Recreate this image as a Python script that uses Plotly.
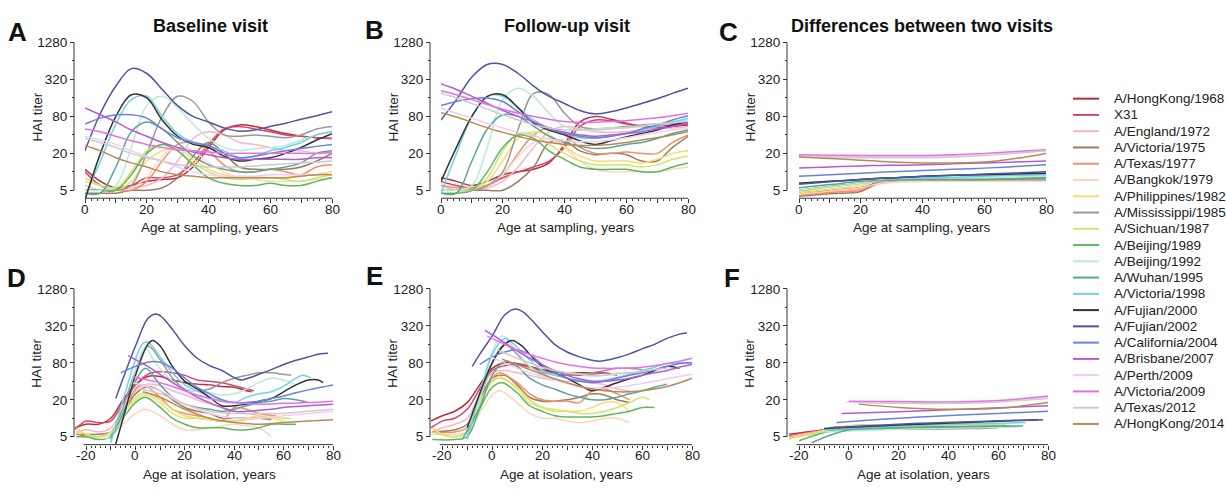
import math
import plotly.graph_objects as go

# ---------------- data ----------------
STRAINS = ["A/HongKong/1968", "X31", "A/England/1972", "A/Victoria/1975", "A/Texas/1977",
           "A/Bangkok/1979", "A/Philippines/1982", "A/Mississippi/1985", "A/Sichuan/1987",
           "A/Beijing/1989", "A/Beijing/1992", "A/Wuhan/1995", "A/Victoria/1998",
           "A/Fujian/2000", "A/Fujian/2002", "A/California/2004", "A/Brisbane/2007",
           "A/Perth/2009", "A/Victoria/2009", "A/Texas/2012", "A/HongKong/2014"]
COLORS = ["#b5303f", "#d9456e", "#f7b6c8", "#a07a62", "#f0906a", "#fcd7bd", "#f7dc6f",
          "#999999", "#d4e36c", "#5cb85c", "#b8ecd4", "#5aa596", "#6fd3e8", "#333333",
          "#52529e", "#6a82d8", "#b05cd6", "#f0cdf0", "#e86fe8", "#cccccc", "#b98a55"]

AGE_SAMPLING = [0, 5, 10, 15, 20, 25, 30, 35, 40, 45, 50, 55, 60, 65, 70, 75, 80]

A_TITER = [
    [11, 7, 5.5, 6, 7, 7.5, 8, 12, 25, 48, 58, 55, 48, 42, 38, 36, 35],
    [10, 6, 5, 6, 8, 8, 9, 14, 28, 50, 55, 50, 45, 40, 38, 36, 35],
    [6, 5, 5, 5.5, 6, 8, 15, 35, 45, 40, 30, 28, 25, 22, 22, 20, 20],
    [4.5, 4.5, 4.5, 5, 5, 5.5, 8, 18, 30, 20, 12, 11, 11, 11, 12, 15, 20],
    [5, 5, 5, 5, 7, 15, 28, 30, 22, 13, 10, 10, 11, 10, 9, 12, 13],
    [5, 5, 5, 5.5, 8, 18, 25, 22, 14, 10, 8, 7.5, 7, 7, 7, 7.5, 8],
    [7, 6, 5, 7, 15, 22, 24, 16, 11, 9, 8, 8, 8, 8, 9, 9, 10],
    [5, 5, 5, 6, 20, 80, 170, 140, 65, 40, 38, 40, 38, 36, 40, 50, 55],
    [8, 6, 5.5, 10, 22, 28, 22, 14, 10, 8, 7.5, 8, 8, 7.5, 7, 8, 9],
    [5, 5, 5, 9, 20, 28, 22, 13, 8, 6.5, 6, 6, 6.5, 6, 6, 7, 8],
    [5, 5, 6, 25, 120, 170, 110, 60, 35, 25, 22, 24, 25, 27, 33, 40, 45],
    [4.5, 4.5, 12, 45, 65, 50, 30, 18, 13, 11, 10, 10, 11, 12, 14, 20, 22],
    [4, 15, 60, 150, 170, 80, 42, 30, 26, 22, 17, 18, 22, 25, 30, 40, 45],
    [3.5, 20, 80, 180, 160, 70, 38, 28, 25, 18, 15, 16, 17, 20, 25, 33, 42],
    [22, 90, 250, 480, 400, 220, 120, 80, 65, 52, 46, 48, 55, 62, 72, 82, 95],
    [60, 75, 85, 85, 75, 50, 36, 30, 27, 20, 17, 18, 20, 22, 24, 26, 28],
    [110, 85, 65, 48, 38, 30, 25, 21, 19, 17, 16, 16, 16, 16, 16, 17, 17],
    [38, 33, 28, 22, 18, 15, 12, 10, 9, 8.5, 8.5, 8.5, 9, 9, 9, 9, 9],
    [50, 45, 38, 32, 28, 25, 23, 22, 21, 20, 20, 20, 20, 20, 20, 20, 21],
    [35, 30, 25, 20, 17, 15, 13, 12.5, 12, 12, 12, 12.5, 13, 13.5, 14, 14.5, 15],
    [27, 22, 17, 14, 12, 10, 9, 8.5, 8, 8, 8, 8, 8, 8, 8.5, 9, 9],
]

B_TITER = [
    [8, 7, 6, 7, 9, 10, 11, 14, 28, 65, 80, 72, 62, 55, 52, 55, 58],
    [7, 6, 5.5, 6, 8, 10, 12, 15, 25, 55, 70, 68, 60, 56, 55, 58, 60],
    [6, 5, 5, 5.5, 7, 12, 25, 45, 55, 50, 45, 44, 45, 48, 50, 52, 55],
    [5, 5, 5, 5, 5, 7, 12, 30, 32, 22, 19, 20, 19, 15, 15, 25, 38],
    [6, 5.5, 5.5, 6, 9, 20, 40, 52, 40, 25, 20, 20, 21, 20, 20, 30, 40],
    [5, 5, 5, 6, 9, 18, 30, 35, 25, 15, 11, 10, 10, 10, 10, 11, 12],
    [5, 5, 5, 7, 15, 35, 45, 40, 26, 18, 15, 15, 15, 14, 16, 20, 22],
    [5, 5, 5, 6, 10, 50, 190, 180, 90, 55, 50, 52, 55, 58, 60, 62, 65],
    [5, 5, 5, 8, 22, 42, 40, 28, 20, 15, 13, 13, 13, 12, 13, 16, 18],
    [4.5, 4.5, 5, 10, 25, 40, 35, 22, 16, 12, 11, 11, 11, 10, 10, 12, 14],
    [5, 5, 6, 25, 150, 230, 170, 90, 55, 48, 50, 52, 52, 55, 60, 65, 70],
    [4.5, 4.5, 15, 50, 85, 80, 55, 38, 30, 26, 24, 25, 28, 30, 35, 42, 48],
    [4.5, 20, 80, 170, 170, 110, 70, 50, 40, 36, 35, 38, 42, 48, 55, 65, 75],
    [7, 25, 80, 170, 180, 110, 62, 48, 40, 32, 28, 32, 37, 42, 48, 58, 65],
    [70, 150, 350, 560, 560, 400, 250, 170, 130, 100, 88, 95, 110, 130, 155, 190, 230],
    [120, 140, 155, 160, 140, 95, 65, 50, 42, 38, 36, 38, 42, 50, 58, 70, 82],
    [270, 220, 170, 130, 100, 80, 65, 52, 44, 40, 38, 40, 42, 45, 50, 55, 62],
    [110, 90, 75, 62, 52, 44, 38, 34, 32, 31, 31, 33, 36, 40, 44, 48, 52],
    [210, 180, 150, 125, 105, 90, 80, 72, 66, 64, 64, 66, 68, 72, 76, 82, 90],
    [190, 160, 130, 105, 85, 70, 58, 52, 48, 48, 48, 50, 53, 56, 60, 63, 66],
    [92, 78, 64, 52, 44, 38, 33, 30, 28, 27, 27, 28, 30, 33, 36, 40, 45],
]

C_AGE = [0, 10, 20, 25, 30, 40, 50, 60, 70, 80]
C_TITER = [
    [4.5, 5, 5.5, 6.5, 7, 7.2, 7.4, 7.5, 7.5, 7.5],
    [4.5, 5, 5.5, 6.5, 7, 7, 7, 7, 7, 7],
    [4.2, 4.7, 5.2, 6.3, 6.8, 7, 7, 7, 7, 7],
    [4, 4.4, 4.8, 6.3, 7.2, 7.5, 7.5, 7.5, 7.5, 7.5],
    [4.2, 4.6, 5, 6.5, 7.3, 7.5, 7.5, 7.5, 7.3, 7],
    [4.3, 4.9, 5.5, 6.3, 6.8, 7, 7, 7, 7, 7],
    [4.5, 5.2, 6, 7, 7.6, 8, 8, 8, 8, 8],
    [5, 5.7, 6.5, 7, 7.3, 7.5, 7.5, 7.5, 7.5, 7.5],
    [4.7, 5.6, 6.5, 7, 7.3, 7.5, 7.5, 7.6, 8, 8.5],
    [5, 5.8, 6.5, 7, 7.2, 7.5, 7.5, 7.5, 7.7, 8],
    [5, 5.7, 6.5, 7, 7.2, 7.5, 7.7, 8, 8.2, 8.5],
    [5.5, 6.2, 7, 7.2, 7.3, 7.5, 7.5, 7.5, 7.7, 8],
    [6.5, 7, 7.5, 7.7, 7.8, 8, 8.2, 8.5, 8.7, 9],
    [6.5, 7, 7.5, 7.8, 8, 8.5, 8.8, 9, 9.2, 9.5],
    [6.3, 6.9, 7.5, 7.8, 8, 8.5, 8.8, 9.2, 9.6, 10],
    [8.5, 9, 9.5, 9.8, 10, 10.5, 11, 11.5, 12.2, 13],
    [11.5, 12, 12.5, 12.7, 12.8, 13, 13.5, 14, 14.5, 15],
    [18, 18, 18, 18, 18, 18, 18.5, 19.5, 20.5, 22],
    [19, 18.7, 18.5, 18.5, 18.5, 18.5, 19, 20, 21.5, 23],
    [17.5, 17.2, 17, 17, 17, 17, 17.5, 18.5, 20, 22],
    [17.5, 16.5, 15.5, 15, 14.5, 14, 14, 14.5, 16.5, 20],
]

D_AGE = [
    [-24.5, -20, -15, -10, -5, 0, 5, 10, 15, 20, 25, 30, 35, 40, 45, 47],
    [-24.5, -20, -15, -10, -5, 0, 5, 10, 15, 20, 25, 30, 35, 40, 45, 48],
    [-24, -20, -15, -10, -5, 0, 5, 10, 15, 20, 25, 30, 35, 40, 45, 50, 53],
    [-24, -15, -10, -5, 0, 5, 10, 15, 20, 25, 30, 35, 40, 45, 50, 55],
    [-24, -15, -10, -5, 0, 3, 10, 15, 20, 25, 30, 35, 40, 45, 50, 57],
    [-24, -15, -10, -5, 0, 4, 10, 15, 20, 25, 30, 35, 40, 45, 50, 55],
    [-24, -20, -15, -10, -5, 0, 4, 10, 15, 20, 25, 30, 35, 40, 45, 50, 55, 60],
    [-10, -5, 0, 5, 10, 15, 20, 25, 30, 35, 40, 45, 50, 55, 60, 63],
    [-24, -20, -15, -10, -5, 0, 4, 10, 15, 20, 25, 30, 35, 40, 45, 50, 55, 60, 63],
    [-24, -20, -15, -10, -5, 0, 4, 10, 15, 20, 25, 30, 35, 40, 45, 50, 55, 60, 65],
    [-12, -5, 0, 4, 8, 15, 20, 25, 30, 35, 40, 45, 50, 55, 60, 65],
    [-10, -5, 0, 4, 10, 15, 20, 25, 30, 35, 40, 45, 50, 55, 60, 65, 70],
    [-10, -5, 0, 3, 5, 10, 15, 20, 25, 30, 35, 40, 45, 50, 55, 60, 65, 68, 71],
    [-8, -5, 0, 5, 7, 10, 15, 20, 25, 30, 35, 40, 45, 50, 55, 60, 65, 70, 74, 76],
    [-8, -5, 0, 5, 8, 10, 15, 20, 25, 30, 35, 40, 43, 45, 50, 55, 60, 65, 70, 75, 78],
    [-6, 0, 5, 10, 15, 20, 25, 30, 35, 40, 45, 50, 55, 60, 65, 70, 75, 80],
    [-3, 0, 5, 10, 15, 20, 25, 30, 35, 40, 45, 50, 55, 60, 65, 70, 75, 80],
    [-1, 10, 20, 30, 40, 50, 60, 70, 80],
    [-1, 5, 10, 15, 20, 25, 30, 35, 40, 50, 60, 70, 80],
    [2, 10, 20, 30, 40, 50, 60, 70, 80],
    [3, 10, 20, 30, 40, 50, 60, 70, 80],
]
D_TITER = [
    [7, 8, 8, 10, 20, 35, 48, 48, 42, 38, 36, 35, 33, 32, 28, 27],
    [6.5, 9, 8.5, 9, 18, 35, 52, 57, 55, 50, 42, 40, 38, 34, 30, 28],
    [6, 6.5, 6, 7, 14, 28, 36, 34, 28, 24, 20, 17, 15, 13, 12, 11, 10],
    [5.5, 5.5, 6, 12, 25, 33, 28, 20, 15, 13, 12, 10, 10, 10, 10, 9.5],
    [5.5, 5, 6, 12, 30, 35, 22, 14, 12, 11, 10, 9, 15, 14, 12, 11],
    [5, 5, 5.5, 8, 12, 14, 11, 8, 6.5, 6.5, 7, 7.5, 8, 7.5, 7, 5],
    [6, 5.5, 5, 6, 12, 20, 24, 18, 12, 10, 10, 9.5, 9, 9, 10, 11, 10, 9],
    [4.5, 15, 60, 150, 90, 45, 30, 28, 30, 38, 45, 50, 55, 55, 52, 50],
    [7, 5.5, 5, 6, 12, 22, 26, 20, 14, 11, 10, 9.5, 9, 9, 9.5, 10, 10.5, 10, 10],
    [5, 5, 4.5, 5, 10, 18, 22, 15, 10, 8, 7, 7, 7, 6.5, 6.5, 7, 8, 8, 8],
    [4.5, 10, 60, 140, 80, 40, 30, 28, 26, 24, 25, 30, 38, 45, 42, 35],
    [5, 12, 40, 65, 35, 22, 17, 15, 14, 13, 14, 16, 18, 19, 21, 20, 18],
    [4, 20, 90, 165, 175, 100, 55, 35, 28, 22, 19, 18, 22, 25, 27, 33, 45, 50, 45],
    [3.8, 10, 50, 160, 185, 150, 70, 40, 30, 22, 16, 16, 17, 19, 21, 27, 35, 42, 42, 38],
    [21, 45, 150, 420, 500, 470, 280, 150, 95, 72, 60, 46, 42, 44, 52, 62, 75, 88, 100, 112, 115],
    [55, 70, 82, 82, 65, 45, 32, 25, 20, 18, 18, 19, 21, 23, 26, 29, 32, 35],
    [105, 90, 70, 52, 38, 29, 22, 18, 15, 13, 13, 13.5, 14, 15, 15.5, 16, 16.5, 17],
    [38, 28, 17, 12, 10, 10, 11, 12, 13],
    [48, 42, 38, 33, 28, 24, 21, 19, 18, 17, 17.5, 18, 19],
    [30, 25, 17, 13, 12, 12, 12, 13, 14],
    [27, 22, 14, 10, 8.5, 8, 8.5, 9, 9.5],
]

E_AGE = [
    [-24.5, -20, -15, -10, -5, 0, 5, 10, 15, 20, 25, 30, 35, 40, 45],
    [-24.5, -20, -15, -10, -5, 0, 5, 10, 15, 20, 25, 30, 35, 40, 45, 50],
    [-24, -20, -15, -10, -5, 0, 5, 10, 15, 20, 25, 30, 35, 40, 45, 50, 55],
    [-24, -15, -10, -5, 0, 5, 10, 15, 20, 25, 30, 35, 40, 45, 50, 55],
    [-24, -15, -10, -5, 0, 3, 10, 15, 20, 25, 30, 35, 40, 45, 50, 55],
    [-24, -15, -10, -5, 0, 3, 10, 15, 20, 25, 30, 35, 40, 45, 50, 55],
    [-24, -20, -15, -10, -5, 0, 3, 10, 15, 20, 25, 30, 35, 40, 45, 50, 55],
    [-10, -5, 0, 5, 10, 15, 20, 25, 30, 35, 40, 45, 50, 55, 60],
    [-24, -15, -10, -5, 0, 3, 10, 15, 20, 25, 30, 35, 40, 45, 50, 55, 60, 63],
    [-24, -15, -10, -5, 0, 4, 10, 15, 20, 25, 30, 35, 40, 45, 50, 55, 60, 65],
    [-12, -5, 0, 4, 8, 15, 20, 25, 30, 35, 40, 45, 50, 55],
    [-12, -5, 0, 5, 10, 15, 20, 25, 30, 35, 40, 45, 50, 55, 60, 65, 70],
    [-10, -5, 0, 5, 8, 15, 20, 25, 30, 35, 40, 45, 50, 55, 60, 65, 70, 75, 80],
    [-10, -5, 0, 5, 8, 12, 15, 20, 25, 30, 35, 40, 45, 50, 55, 60, 65, 70, 75],
    [-8, -5, 0, 5, 9, 12, 15, 20, 25, 30, 35, 40, 43, 45, 50, 55, 60, 65, 70, 75, 78],
    [-5, 0, 5, 10, 15, 20, 25, 30, 35, 40, 45, 50, 55, 60, 65, 70, 75, 80],
    [-3, 0, 5, 10, 15, 20, 25, 30, 35, 40, 45, 50, 55, 60, 65, 70, 75, 80],
    [-1, 5, 10, 15, 20, 25, 30, 35, 40, 45, 50, 55, 60, 65, 70, 75, 80],
    [-2, 0, 5, 10, 15, 20, 25, 30, 35, 40, 45, 50, 55, 60, 65, 70, 75, 80],
    [2, 5, 10, 15, 20, 25, 30, 35, 40, 45, 50, 55, 60, 65, 70],
    [4, 10, 15, 20, 25, 30, 35, 40, 45, 50, 55, 60, 65, 70, 75, 80],
]
E_TITER = [
    [9, 11, 13, 18, 35, 65, 80, 78, 70, 62, 58, 55, 55, 55, 55],
    [7, 9, 10, 14, 30, 60, 72, 75, 68, 60, 55, 52, 50, 52, 55, 50],
    [6, 7, 8, 10, 25, 55, 60, 55, 50, 45, 42, 40, 40, 38, 35, 30, 28],
    [6, 6.5, 8, 20, 45, 50, 35, 22, 19, 19, 20, 22, 25, 24, 20, 18],
    [6, 6, 7, 18, 45, 55, 38, 25, 20, 19, 19, 18, 28, 30, 25, 20],
    [5.5, 5.5, 6, 12, 24, 28, 18, 12, 10, 10, 9, 8.5, 9, 10, 10, 8.5],
    [7, 5.5, 5, 6, 18, 40, 48, 30, 18, 15, 14, 13, 13, 15, 18, 18, 13],
    [5, 20, 80, 160, 110, 70, 55, 52, 50, 52, 55, 60, 65, 65, 62],
    [6, 5, 6, 18, 40, 45, 32, 20, 15, 13, 13, 12, 12, 13, 15, 18, 22, 20],
    [4.5, 4.5, 5, 14, 32, 38, 26, 16, 13, 11, 10.5, 10.5, 10.5, 11, 12, 13, 15, 15],
    [4.5, 20, 120, 220, 150, 70, 52, 52, 55, 52, 48, 50, 55, 55],
    [4.5, 15, 50, 85, 70, 45, 35, 30, 25, 22, 20, 20, 22, 25, 28, 32, 36],
    [4.5, 25, 110, 200, 170, 90, 60, 50, 45, 42, 40, 42, 46, 52, 60, 68, 78, 80, 80],
    [7, 25, 80, 160, 185, 150, 110, 70, 55, 45, 35, 28, 32, 38, 44, 50, 60, 70, 65],
    [70, 110, 220, 480, 600, 550, 430, 260, 160, 120, 100, 88, 85, 87, 97, 112, 135, 160, 200, 235, 245],
    [75, 100, 120, 130, 110, 75, 55, 45, 40, 38, 40, 45, 50, 55, 62, 70, 78, 80],
    [270, 230, 170, 125, 95, 75, 60, 50, 44, 40, 40, 42, 45, 50, 55, 60, 68, 75],
    [100, 80, 65, 55, 48, 42, 37, 33, 31, 31, 32, 34, 37, 40, 44, 48, 52],
    [220, 200, 160, 130, 110, 95, 83, 75, 70, 66, 65, 65, 66, 68, 72, 78, 85, 95],
    [130, 115, 95, 80, 68, 60, 55, 52, 50, 50, 52, 55, 58, 62, 65],
    [92, 75, 62, 52, 44, 38, 33, 30, 28, 27, 27, 28, 30, 33, 38, 45],
]

F_AGE = [
    [-24, -10, -5, 0, 20, 45],
    [-24, -10, -5, 0, 20, 48],
    [-24, -5, 0, 20, 53],
    [-24, -5, 0, 20, 40, 51],
    [-24, -5, 0, 20, 40, 57],
    [-24, -5, 20, 55],
    [-24, -5, 0, 20, 60],
    [-10, 20, 50, 60],
    [-24, -5, 20, 63],
    [-20, -5, 20, 65],
    [-12, 20, 68],
    [-15, 0, 20, 70],
    [-10, 20, 71],
    [-10, 20, 76],
    [-8, 20, 78],
    [-5, 20, 80],
    [-3, 20, 80],
    [-1, 20, 40, 60, 80],
    [0, 20, 40, 60, 80],
    [2, 20, 40, 60, 80],
    [4, 20, 40, 60, 80],
]
F_TITER = [
    [5.5, 6.5, 7, 7.2, 7.5, 7.5],
    [5.2, 6.5, 7.2, 7.2, 7.1, 7],
    [5, 6.8, 7, 7.2, 7.3],
    [4.8, 6.5, 7.5, 7.5, 7.6, 6.8],
    [4.7, 7, 7.5, 7.5, 8.5, 7.5],
    [4.6, 6.3, 6.8, 7],
    [4.6, 7, 7.5, 7.8, 7.8],
    [6.5, 6.6, 6.8, 7],
    [4.8, 6.5, 7.2, 8],
    [4.3, 6.5, 7, 7.5],
    [6, 6.6, 7.3],
    [4, 6.5, 7, 7.5],
    [6.5, 7.5, 8.5],
    [6.8, 7.8, 9.5],
    [7, 8, 9.5],
    [8.5, 10, 13],
    [12, 12.8, 16],
    [18.5, 18, 18, 19, 22],
    [19, 18.7, 18.5, 19.5, 23],
    [18, 17.5, 17.5, 18.5, 21],
    [17, 15, 14, 14.5, 18],
]

PANEL_TITLES = ["Baseline visit", "Follow-up visit", "Differences between two visits"]
PANEL_LETTERS = ["A", "B", "C", "D", "E", "F"]
Y_TICKS = [5, 20, 80, 320, 1280]
Y_MINOR = [10, 40, 160, 640]
X_LABELS_TOP = [0, 20, 40, 60, 80]
X_LABELS_BOTTOM = [-20, 0, 20, 40, 60, 80]

# ---------------- layout helpers ----------------
W, H = 1226, 489
FONT = "Liberation Sans, Arial, Helvetica, sans-serif"
INK = "#222222"


def px(x):
    return x / W


def py(y):
    return 1 - y / H


# pixel geometry of panels: (x0, x1, yaxis_x, xrange, top_px, five_px, bottom_px, xline_start)
PANELS = [
    (85, 332, 74, [0, 80], 36, 186, 194, 0),
    (441, 688, 430, [0, 80], 36, 186, 194, 0),
    (799, 1046, 787, [0, 80], 36, 186, 194, 0),
    (75, 333, 74, [-24.5, 80], 286, 436, 444, -21),
    (431, 692, 430, [-24.5, 80], 286, 436, 444, -21),
    (788, 1048, 787, [-24.5, 80], 286, 436, 444, -21),
]

fig = go.Figure()

series_x = [
    [AGE_SAMPLING] * 21,
    [AGE_SAMPLING] * 21,
    [C_AGE] * 21,
    D_AGE, E_AGE, F_AGE,
]
series_y = [A_TITER, B_TITER, C_TITER, D_TITER, E_TITER, F_TITER]

for k in range(6):
    ax = "" if k == 0 else str(k + 1)
    for j in range(21):
        fig.add_trace(go.Scatter(
            x=series_x[k][j], y=series_y[k][j], mode="lines",
            line=dict(color=COLORS[j], width=1.5, shape="spline", smoothing=1.0),
            xaxis="x" + ax, yaxis="y" + ax, showlegend=False, hoverinfo="skip",
            name=STRAINS[j]))

layout = dict(
    width=W, height=H, margin=dict(l=0, r=0, t=0, b=0),
    paper_bgcolor="white", plot_bgcolor="white", showlegend=False,
    font=dict(family=FONT, color=INK, size=13.5),
)

shapes = []
annotations = []
for k, (x0, x1, yax, xr, ytop, y5, ybot, xstart) in enumerate(PANELS):
    ax = "" if k == 0 else str(k + 1)
    per_dbl = (y5 - ytop) / 8.0
    lo = 5 * 2 ** (-(ybot - y5) / per_dbl)
    if xr[0] < 0:
        major = list(range(-20, 81, 10))
        minor = [v for v in range(-20, 81, 2) if v % 10 != 0]
        lab_vals = X_LABELS_BOTTOM
    else:
        major = list(range(0, 81, 10))
        minor = [v for v in range(0, 81, 2) if v % 10 != 0]
        lab_vals = X_LABELS_TOP
    layout["xaxis" + ax] = dict(
        domain=[px(x0), px(x1)], range=xr, anchor="y" + ax,
        showline=False, showgrid=False, zeroline=False, showticklabels=False,
        ticks="outside", ticklen=4, tickwidth=1, tickcolor="#333",
        tickmode="array", tickvals=major,
        minor=dict(tickmode="array", tickvals=minor, ticks="outside", ticklen=2,
                   tickwidth=1, tickcolor="#333", showgrid=False),
    )
    layout["yaxis" + ax] = dict(
        domain=[py(ybot), py(ytop)], type="log",
        range=[math.log10(lo), math.log10(1280)],
        anchor="free", position=px(yax),
        showline=False, showgrid=False, zeroline=False,
        ticks="outside", ticklen=4, tickwidth=1, tickcolor="#333",
        tickmode="array", tickvals=Y_TICKS, ticktext=[str(v) for v in Y_TICKS],
        tickfont=dict(size=13.5, color=INK, family=FONT),
        minor=dict(tickmode="array", tickvals=Y_MINOR, ticks="outside", ticklen=2,
                   tickwidth=1, tickcolor="#333", showgrid=False),
    )
    shapes.append(dict(type="line", xref="paper", yref="paper",
                       x0=px(yax), x1=px(yax), y0=py(y5), y1=py(ytop),
                       line=dict(color="#333", width=1)))
    shapes.append(dict(type="line", xref="x" + ax, yref="paper",
                       x0=xstart, x1=80, y0=py(ybot), y1=py(ybot),
                       line=dict(color="#333", width=1)))
    # x tick labels placed close to the axis, as in the original
    for v in lab_vals:
        annotations.append(dict(text=str(v), x=v, xref="x" + ax, y=py(ybot + 11), yref="paper",
                                showarrow=False, xanchor="center", yanchor="middle",
                                font=dict(size=13.5, color=INK, family=FONT)))

for t, cx in zip(PANEL_TITLES, [210, 567, 922]):
    annotations.append(dict(text="<b>" + t + "</b>", x=px(cx), y=py(19), xref="paper", yref="paper",
                            showarrow=False, xanchor="center", yanchor="middle",
                            font=dict(size=18, color="#111", family=FONT)))
for letter, (lx, ly) in zip(PANEL_LETTERS, [(17, 25), (374, 23), (728, 25), (16, 275), (374, 273), (732, 275)]):
    annotations.append(dict(text="<b>" + letter + "</b>", x=px(lx), y=py(ly), xref="paper", yref="paper",
                            showarrow=False, xanchor="center", yanchor="middle",
                            font=dict(size=26, color="#111", family=FONT)))
for cx, cy in [(210, 224), (566, 224), (922, 224)]:
    annotations.append(dict(text="Age at sampling, years", x=px(cx), y=py(cy), xref="paper", yref="paper",
                            showarrow=False, xanchor="center", yanchor="middle",
                            font=dict(size=13.5, color=INK, family=FONT)))
for cx, cy in [(209, 474), (566, 474), (923, 474)]:
    annotations.append(dict(text="Age at isolation, years", x=px(cx), y=py(cy), xref="paper", yref="paper",
                            showarrow=False, xanchor="center", yanchor="middle",
                            font=dict(size=13.5, color=INK, family=FONT)))
for cx, cy in [(37, 112), (393, 112), (750, 112), (37, 362), (393, 362), (750, 362)]:
    annotations.append(dict(text="HAI titer", x=px(cx), y=py(cy), xref="paper", yref="paper",
                            showarrow=False, xanchor="center", yanchor="middle", textangle=-90,
                            font=dict(size=13.5, color=INK, family=FONT)))

for j, (name, col) in enumerate(zip(STRAINS, COLORS)):
    yy = 93 + 16.5 * j
    shapes.append(dict(type="line", xref="paper", yref="paper",
                       x0=px(1073), x1=px(1099), y0=py(yy), y1=py(yy),
                       line=dict(color=col, width=2)))
    annotations.append(dict(text=name, x=px(1112), y=py(yy), xref="paper", yref="paper",
                            showarrow=False, xanchor="left", yanchor="middle",
                            font=dict(size=13.5, color=INK, family=FONT)))

layout["shapes"] = shapes
layout["annotations"] = annotations
fig.update_layout(**layout)
fig.write_html(
    "out.html",
    config={"displayModeBar": False},
    post_script="document.body.style.margin='0';document.body.style.padding='0';"
                "document.body.style.overflow='hidden';",
)
